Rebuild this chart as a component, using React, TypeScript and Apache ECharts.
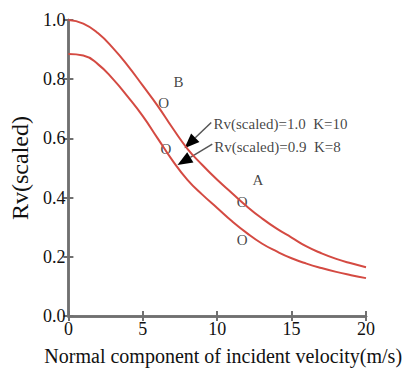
import React, { useEffect, useRef } from "react";
import * as echarts from "echarts";

const velocity = [0, 1, 2, 3, 4, 5, 6, 7, 8, 9, 10, 11, 12, 13, 14, 15, 16, 17, 18, 19, 20];
const rvUpper = [1.0, 0.988, 0.955, 0.905, 0.845, 0.778, 0.71, 0.635, 0.565, 0.51, 0.46, 0.415, 0.37, 0.33, 0.295, 0.265, 0.235, 0.212, 0.193, 0.178, 0.165];
const rvLower = [0.885, 0.88, 0.85, 0.8, 0.74, 0.675, 0.6, 0.525, 0.46, 0.41, 0.365, 0.32, 0.28, 0.245, 0.218, 0.195, 0.177, 0.162, 0.149, 0.138, 0.128];

const markerLetters = ["B", "O", "O", "A", "O", "O"];
const markerX = [7.4, 6.4, 6.55, 12.73, 11.67, 11.67];
const markerY = [0.789, 0.721, 0.564, 0.46, 0.386, 0.258];

const legendTexts = ["Rv(scaled)=1.0  K=10", "Rv(scaled)=0.9  K=8"];
const legendX = [9.75, 9.8];
const legendY = [0.648, 0.57];

const arrowFromX = [9.6, 9.67];
const arrowFromY = [0.654, 0.581];
const arrowToX = [7.8, 7.33];
const arrowToY = [0.567, 0.51];

const FONT = "Liberation Serif";
const AXIS_COLOR = "#707070";
const CURVE_COLOR = "#d44a42";

export default function App() {
  const ref = useRef<HTMLDivElement>(null);
  useEffect(() => {
    if (!ref.current) return;
    const chart = echarts.init(ref.current, null, { renderer: "svg" });
    const axisCommon = {
      axisLine: { show: true, lineStyle: { color: AXIS_COLOR, width: 2.5 } },
      axisTick: { show: true, inside: true, length: 5, lineStyle: { color: AXIS_COLOR, width: 2 } },
      splitLine: { show: false },
    };
    chart.setOption({
      animation: false,
      textStyle: { fontFamily: FONT },
      grid: { left: 66, right: 40, top: 20, bottom: 53, containLabel: false },
      xAxis: [
        {
          type: "value",
          min: 0,
          max: 20,
          interval: 5,
          position: "bottom",
          ...axisCommon,
          axisLabel: { color: "#111", fontFamily: FONT, fontSize: 18, margin: 4 },
          name: "Normal component of incident velocity(m/s)",
          nameLocation: "middle",
          nameGap: 30,
          nameTextStyle: { color: "#111", fontFamily: FONT, fontSize: 20, padding: [0, 0, 0, 12] },
        },
        {
          type: "value",
          min: 0,
          max: 20,
          interval: 5,
          position: "top",
          ...axisCommon,
          axisLabel: { show: false },
        },
      ],
      yAxis: [
        {
          type: "value",
          min: 0,
          max: 1,
          interval: 0.2,
          position: "left",
          ...axisCommon,
          axisLabel: {
            color: "#111",
            fontFamily: FONT,
            fontSize: 18,
            margin: 3,
            formatter: (v: number) => v.toFixed(1),
          },
          name: "Rv(scaled)",
          nameLocation: "middle",
          nameGap: 24,
          nameRotate: 90,
          nameTextStyle: { color: "#111", fontFamily: FONT, fontSize: 24 },
        },
        {
          type: "value",
          min: 0,
          max: 1,
          interval: 0.2,
          position: "right",
          ...axisCommon,
          axisLabel: { show: false },
        },
      ],
      series: [
        {
          type: "line",
          data: velocity.map((v, i) => [v, rvUpper[i]]),
          smooth: true,
          showSymbol: false,
          lineStyle: { color: CURVE_COLOR, width: 2 },
          itemStyle: { color: CURVE_COLOR },
        },
        {
          type: "line",
          data: velocity.map((v, i) => [v, rvLower[i]]),
          smooth: true,
          showSymbol: false,
          lineStyle: { color: CURVE_COLOR, width: 2 },
          itemStyle: { color: CURVE_COLOR },
        },
        {
          type: "scatter",
          symbolSize: 0,
          silent: true,
          data: markerLetters.map((t, i) => ({ value: [markerX[i], markerY[i]], name: t })),
          label: {
            show: true,
            position: "inside",
            formatter: "{b}",
            color: "#111",
            fontFamily: FONT,
            fontSize: 15,
          },
        },
        {
          type: "scatter",
          symbolSize: 0,
          silent: true,
          data: legendTexts.map((t, i) => ({ value: [legendX[i], legendY[i]], name: t })),
          label: {
            show: true,
            position: "inside",
            align: "left",
            verticalAlign: "middle",
            formatter: "{b}",
            color: "#111",
            fontFamily: FONT,
            fontSize: 15,
          },
        },
        {
          type: "custom",
          silent: true,
          data: arrowFromX.map((x, i) => [x, arrowFromY[i], arrowToX[i], arrowToY[i]]),
          renderItem: (params: any, api: any) => {
            const p0 = api.coord([api.value(0), api.value(1)]);
            const p1 = api.coord([api.value(2), api.value(3)]);
            const dx = p1[0] - p0[0];
            const dy = p1[1] - p0[1];
            const len = Math.hypot(dx, dy);
            const ux = dx / len;
            const uy = dy / len;
            const hl = 15;
            const hw = 6;
            const base = [p1[0] - ux * hl, p1[1] - uy * hl];
            const left = [base[0] - uy * hw, base[1] + ux * hw];
            const right = [base[0] + uy * hw, base[1] - ux * hw];
            return {
              type: "group",
              children: [
                {
                  type: "line",
                  shape: { x1: p0[0], y1: p0[1], x2: base[0], y2: base[1] },
                  style: { stroke: "#555", lineWidth: 1.5 },
                },
                {
                  type: "polygon",
                  shape: { points: [p1, left, right] },
                  style: { fill: "#000" },
                },
              ],
            };
          },
        },
      ],
    });
    return () => chart.dispose();
  }, []);
  return <div ref={ref} style={{ width: 406, height: 371, position: "absolute", left: 0, top: 0 }} />;
}
